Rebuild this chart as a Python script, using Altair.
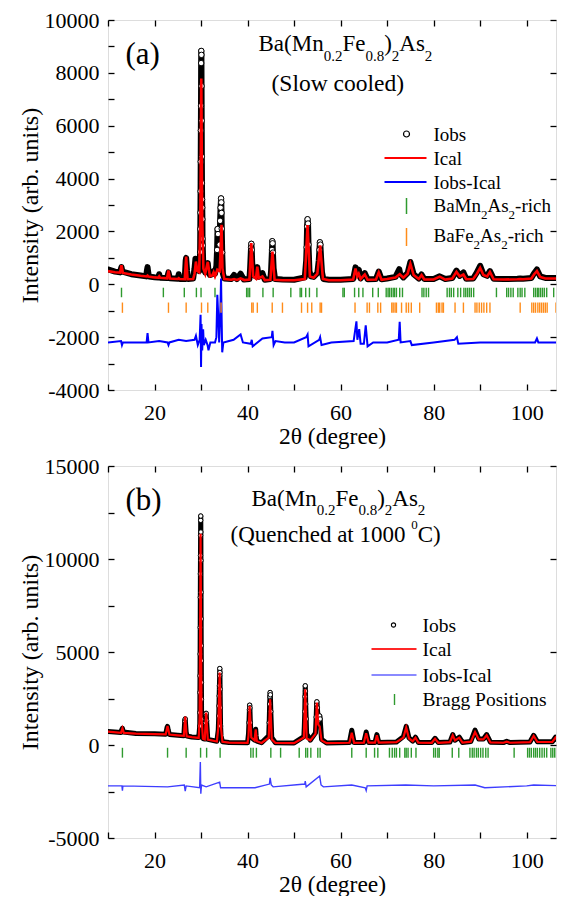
import altair as alt
import pandas as pd

FONT = "Liberation Serif"
RED = "#ff0000"
BLUE_A = "#0000ff"
BLUE_B = "#3d3dff"
GREEN = "#2f9a2f"
ORANGE = "#ff8c1a"

# ---------------- panel (a): slow cooled ----------------
obs_a_x = [10.0, 11.5, 12.6, 12.8, 12.9, 13.1, 15.0, 17.0, 18.2, 18.4, 18.5, 18.6, 18.8, 20.0, 20.8, 21.0, 21.2,
           22.7, 23.0, 23.3, 25.0, 25.2, 25.4, 26.5, 26.7, 26.8, 27.0, 27.2, 28.3, 28.6, 28.8, 29.0, 29.3, 29.6,
           29.80, 29.84, 29.87, 29.90, 29.93, 29.96, 29.99, 30.02, 30.05, 30.08, 30.11, 30.14, 30.17, 30.20,
           30.23, 30.26, 30.29, 30.32, 30.36, 30.45, 30.6, 30.9, 31.3, 31.45, 31.6, 31.9, 32.4, 32.7, 33.0,
           33.3, 33.45, 33.55, 33.65, 33.8, 34.0, 34.1, 34.2, 34.3, 34.35, 34.4, 34.45, 34.55, 34.7, 35.0,
           36.5, 37.1, 37.7, 38.5, 39.2, 40.4, 40.55, 40.65, 40.75, 40.82, 40.9, 41.0, 41.3, 41.8, 42.1, 42.4,
           43.2, 43.7, 44.9, 45.05, 45.15, 45.25, 45.32, 45.38, 45.45, 45.6, 45.9, 47.5, 50.0, 52.3, 52.6,
           52.7, 52.8, 52.9, 53.0, 53.1, 53.3, 53.6, 54.2, 55.0, 55.3, 55.45, 55.55, 55.65, 55.8, 56.0, 56.3,
           57.5, 60.0, 62.7, 63.1, 63.2, 63.4, 63.9, 64.3, 65.2, 65.8, 67.6, 68.2, 68.8, 70.0, 71.8, 72.6,
           72.8, 73.5, 74.4, 75.0, 75.7, 76.8, 77.4, 78.0, 80.0, 81.3, 82.5, 84.0, 84.9, 85.6, 86.4, 87.0,
           88.5, 89.3, 90.0, 90.7, 91.5, 92.1, 92.9, 95.0, 98.0, 98.6, 99.2, 101.0, 101.6, 102.2, 102.9,
           104.0, 106.8, 107.6, 108.2]
obs_a_y = [560, 480, 450, 600, 650, 480, 380, 330, 300, 560, 650, 500, 290, 270, 260, 380, 250,
           240, 450, 230, 210, 380, 200, 200, 900, 1000, 500, 200, 220, 600, 970, 900, 600, 500,
           1220, 2090, 2710, 3520, 4640, 5820, 6750, 8370, 8830, 8680, 7500, 6190, 4830, 3830,
           3210, 2900, 2460, 1720, 1470, 900, 600, 450, 750, 800, 500, 350, 380, 500, 400,
           700, 1300, 2090, 1900, 900, 1500, 2400, 2900, 3250, 3100, 2700, 2100, 1200, 400, 220,
           200, 350, 200, 400, 180, 200, 600, 1000, 1400, 1530, 1300, 800, 350, 300, 650, 280,
           420, 170, 200, 500, 900, 1300, 1630, 1550, 1200, 600, 200, 180, 170, 260, 900,
           1400, 2200, 2460, 2300, 1500, 500, 300, 280, 420, 900, 1300, 1590, 1500, 1000, 450, 200,
           170, 170, 200, 550, 640, 400, 550, 220, 420, 190, 200, 480, 190, 220, 280, 570,
           400, 260, 420, 845, 380, 220, 370, 200, 200, 300, 200, 240, 520, 320, 450, 210,
           220, 450, 700, 380, 320, 500, 210, 200, 210, 220, 210, 240, 420, 560, 300,
           240, 240, 320, 300]

cal_a_x = [10.0, 11.5, 12.6, 12.9, 13.2, 15.0, 17.0, 18.3, 18.5, 18.7, 20.0, 20.8, 21.0, 21.2, 22.7, 23.0,
           23.3, 25.0, 25.2, 25.4, 26.5, 26.8, 27.1, 28.3, 28.6, 28.9, 29.2, 29.6, 29.85, 30.05, 30.25,
           30.5, 30.9, 31.45, 31.9, 32.4, 32.7, 33.0, 33.5, 34.0, 34.2, 34.4, 34.6, 35.0, 36.5, 37.1,
           37.7, 38.5, 39.3, 40.4, 40.8, 41.2, 41.8, 42.1, 42.4, 43.2, 43.7, 44.9, 45.35, 45.8, 47.5,
           50.0, 52.3, 52.9, 53.4, 54.2, 55.0, 55.6, 56.2, 57.5, 60.0, 62.7, 63.2, 63.6, 63.9, 64.3,
           65.2, 65.8, 67.6, 68.2, 68.8, 70.0, 71.8, 72.7, 73.5, 74.4, 75.0, 75.7, 76.8, 77.4, 78.0,
           80.0, 81.3, 82.5, 84.0, 84.9, 85.6, 86.4, 87.0, 88.5, 89.3, 90.0, 90.7, 91.5, 92.1, 92.9,
           95.0, 98.0, 98.6, 99.2, 101.0, 101.6, 102.2, 102.9, 104.0, 106.8, 107.6, 108.2]
cal_a_y = [500, 455, 440, 720, 430, 370, 320, 295, 330, 290, 260, 250, 300, 245, 225, 520,
           220, 200, 230, 198, 190, 1050, 190, 200, 400, 860, 500, 450, 2500, 7790, 2500,
           600, 400, 850, 300, 330, 450, 300, 550, 500, 1300, 2250, 600, 200, 170, 200,
           165, 220, 160, 180, 1555, 300, 220, 670, 230, 300, 160, 170, 1240, 170, 150,
           150, 200, 2240, 300, 250, 400, 1470, 200, 155, 150, 180, 600, 300, 400, 200,
           370, 170, 180, 450, 170, 200, 260, 380, 250, 400, 780, 350, 200, 350, 180,
           180, 290, 180, 220, 470, 300, 370, 190, 200, 400, 620, 350, 300, 470, 190,
           180, 190, 200, 190, 220, 380, 500, 280, 220, 220, 300, 280]

dif_a_x = [10.0, 12.8, 13.0, 13.2, 18.3, 18.5, 18.7, 21.0, 22.8, 23.0, 23.2, 25.2, 26.8, 28.6, 28.9, 29.3,
           29.7, 29.9, 30.0, 30.1, 30.25, 30.45, 30.6, 31.0, 31.4, 31.6, 32.0, 33.0, 33.3, 33.5, 33.7,
           33.9, 34.15, 34.3, 34.45, 34.55, 34.8, 37.0, 38.5, 39.0, 40.7, 40.9, 41.1, 43.2, 45.2, 45.35,
           45.6, 46.0, 48.0, 50.0, 52.6, 52.9, 53.1, 55.4, 55.6, 55.9, 58.0, 62.8, 63.4, 63.6, 64.0,
           64.3, 65.0, 65.4, 65.8, 67.0, 70.0, 72.5, 72.7, 72.9, 75.0, 75.3, 80.0, 84.5, 85.0, 85.3,
           90.0, 95.0, 100.0, 101.8, 102.2, 102.5, 108.2]
dif_a_y = [-2200, -2150, -2300, -2200, -2200, -1850, -2200, -2150, -2200, -2300, -2200, -2100, -2150, -2100, -1950, -2300,
           -2100, -1150, -3130, -1500, -2500, -1700, -2300, -2100, -2300, -2500, -2200, -2200, -2000, -400, -1200,
           -2200, -1000, 220, -1500, -2575, -2200, -2100, -1900, -2200, -2250, -2100, -2350, -2050, -2000, -1760,
           -2300, -2150, -2200, -2200, -2000, -1900, -2350, -2100, -2000, -2300, -2200, -2150, -1400, -2100, -1700,
           -2250, -2250, -1550, -2350, -2200, -2200, -2100, -1420, -2200, -2150, -2300, -2200, -2100, -2000, -2250,
           -2200, -2200, -2200, -2200, -2050, -2200, -2200]

bragg_mn_a = [12.9, 21.9, 26.4, 29.0, 30.0, 33.0, 39.8, 40.1, 40.45, 43.3, 45.5, 49.3, 51.3, 51.6, 52.5,
              53.3, 54.9, 60.5, 60.8, 63.0, 63.9, 64.8, 66.9, 68.1, 69.8, 70.2, 70.5, 70.9, 71.3, 71.6,
              72.0, 72.7, 73.3, 77.5, 77.9, 78.4, 78.9, 82.9, 83.4, 83.8, 84.3, 85.2, 85.8, 86.5, 86.9,
              87.3, 87.7, 88.1, 88.6, 93.5, 95.7, 96.1, 96.6, 97.1, 98.1, 98.6, 99.0, 99.6, 101.5, 101.9,
              102.3, 102.6, 103.0, 103.4, 103.8, 104.3, 105.8, 107.5]
bragg_fe_a = [13.1, 23.0, 26.8, 30.1, 31.45, 34.3, 40.9, 41.2, 42.1, 45.3, 47.5, 51.6, 52.9, 53.8, 55.6,
              55.9, 63.1, 65.7, 66.2, 68.0, 68.6, 71.0, 71.3, 71.7, 72.0, 73.1, 74.1, 74.6, 75.2, 77.0,
              80.6, 81.0, 81.3, 81.8, 82.1, 84.6, 86.4, 88.9, 89.3, 89.8, 90.3, 90.8, 91.4, 92.1, 98.6,
              101.1, 101.5, 101.9, 102.4, 102.8, 103.2, 103.6, 104.0, 104.4, 106.3, 106.7, 107.1, 107.5, 107.9]

# ---------------- panel (b): quenched at 1000 C ----------------
obs_b_x = [10.0, 12.8, 13.0, 13.1, 13.3, 16.0, 20.0, 22.4, 22.7, 22.8, 22.95, 23.2, 25.0, 26.3, 26.5, 26.6,
           26.8, 27.0, 28.0, 29.5, 29.72, 29.74, 29.76, 29.78, 29.80, 29.82, 29.84, 29.86, 29.88, 29.90,
           29.92, 29.94, 29.96, 29.98, 30.00, 30.02, 30.04, 30.06, 30.08, 30.10, 30.12, 30.16, 30.4, 30.8,
           30.95, 31.05, 31.1, 31.2, 31.45, 33.4, 33.7, 33.8, 33.85, 33.9, 33.95, 34.0, 34.03, 34.06, 34.1,
           34.15, 34.2, 34.3, 34.6, 36.0, 40.0, 40.2, 40.3, 40.4, 40.45, 40.5, 40.6, 40.8, 41.5, 41.7,
           41.75, 41.85, 42.0, 43.0, 44.55, 44.65, 44.75, 44.8, 44.85, 44.9, 45.0, 45.2, 46.0, 50.0, 52.1,
           52.2, 52.3, 52.35, 52.4, 52.45, 52.5, 52.6, 52.7, 53.5, 54.6, 54.75, 54.85, 54.9, 55.0, 55.2,
           55.5, 55.6, 55.9, 57.0, 61.9, 62.4, 62.9, 65.0, 65.5, 66.0, 67.4, 67.8, 68.2, 72.0, 73.5,
           74.1, 74.7, 75.5, 76.1, 76.7, 79.6, 80.3, 81.0, 83.5, 84.1, 84.6, 85.5, 86.2, 88.0, 88.9,
           89.7, 90.7, 91.4, 92.2, 95.0, 95.7, 96.4, 100.7, 101.5, 102.3, 105.5, 106.2, 106.9, 108.2]
obs_b_y = [720, 670, 850, 900, 700, 620, 600, 580, 950, 1000, 800, 570, 530, 500, 1300, 1400,
           700, 480, 430, 400, 1020, 1740, 2820, 3720, 4890, 6320, 7940, 9200, 10190, 11270,
           12080, 12310, 11450, 9920, 8210, 6780, 5340, 4530, 3360, 2460, 1390, 800, 350, 320,
           1200, 1650, 1700, 1300, 300, 200, 800, 1560, 2100, 2640, 3180, 3720, 4110, 3900, 3000,
           2000, 1020, 485, 180, 140, 120, 600, 1200, 1900, 2140, 2000, 1200, 400, 260, 800,
           845, 500, 210, 120, 500, 1200, 2200, 2600, 2820, 2700, 1800, 400, 120, 110, 450,
           1000, 1800, 2600, 3180, 2900, 2200, 1400, 600, 260, 650, 1500, 2200, 2320, 2000, 1300,
           1560, 1400, 300, 110, 130, 790, 130, 140, 700, 140, 140, 560, 140, 160, 450,
           1000, 380, 210, 420, 140, 130, 360, 130, 160, 560, 260, 420, 140, 190, 800,
           320, 320, 560, 150, 130, 200, 130, 160, 520, 170, 170, 420, 170, 170]

cal_b_x = [10.0, 12.8, 13.1, 13.4, 16.0, 20.0, 22.4, 22.8, 23.2, 25.0, 26.3, 26.6, 26.9, 28.0, 29.5, 29.7,
           29.9, 30.1, 30.4, 30.8, 31.1, 31.45, 33.4, 33.7, 34.0, 34.3, 34.6, 36.0, 40.0, 40.2, 40.45,
           40.8, 41.5, 41.75, 42.0, 43.0, 44.55, 44.85, 45.2, 46.0, 50.0, 52.1, 52.4, 52.7, 53.5, 54.6,
           54.9, 55.2, 55.5, 55.9, 57.0, 61.9, 62.4, 62.9, 65.0, 65.5, 66.0, 67.4, 67.8, 68.2, 72.0,
           73.5, 74.1, 74.7, 75.5, 76.1, 76.7, 79.6, 80.3, 81.0, 83.5, 84.1, 84.6, 85.5, 86.2, 88.0,
           88.9, 89.7, 90.7, 91.4, 92.2, 95.0, 95.7, 96.4, 100.7, 101.5, 102.3, 105.5, 106.2, 106.9, 108.2]
cal_b_y = [720, 660, 900, 650, 610, 590, 570, 1020, 560, 520, 490, 1530, 470, 420, 380, 1500,
           11360, 1500, 340, 300, 1740, 290, 190, 900, 3900, 900, 170, 130, 110, 500, 2100,
           400, 250, 845, 200, 110, 400, 2460, 300, 110, 100, 400, 3000, 350, 250, 600,
           2280, 1100, 1000, 250, 100, 120, 665, 120, 130, 630, 130, 130, 520, 130, 150,
           400, 935, 350, 200, 395, 130, 120, 340, 120, 150, 520, 250, 395, 130, 180,
           700, 300, 300, 520, 140, 120, 180, 120, 150, 485, 160, 160, 395, 160, 160]

dif_b_x = [10.0, 13.0, 13.1, 13.2, 22.8, 26.4, 26.6, 26.8, 29.7, 29.85, 29.95, 30.1, 31.1, 34.0, 34.2,
           41.6, 44.7, 44.85, 45.1, 45.5, 52.3, 52.4, 52.6, 55.5, 55.8, 56.3, 62.4, 65.3, 65.5, 65.7,
           74.0, 80.0, 88.9, 91.0, 100.0, 101.5, 108.2]
dif_b_y = [-2200, -2200, -2450, -2200, -2250, -2150, -2480, -2200, -2300, -920, -2620, -2150, -2250, -2000, -2300,
           -2300, -2100, -1760, -2150, -2250, -2100, -1940, -2250, -1670, -2150, -2250, -2150, -2300, -2450, -2200,
           -2150, -2200, -2150, -2300, -2200, -2150, -2200]

bragg_b = [13.1, 22.8, 26.8, 29.9, 31.2, 34.1, 40.7, 41.2, 41.9, 45.0, 47.1, 51.1, 52.5, 52.9, 53.6, 55.1,
           55.6, 62.4, 65.5, 67.3, 68.0, 70.5, 71.1, 71.6, 72.0, 72.7, 73.8, 74.1, 74.5, 75.2, 76.2, 80.0,
           80.4, 80.9, 81.2, 84.0, 85.4, 87.8, 88.3, 88.7, 89.2, 89.6, 90.1, 90.6, 91.2, 91.7, 97.3, 100.2,
           100.6, 101.0, 101.5, 101.9, 102.3, 102.8, 103.3, 103.8, 104.3, 105.2, 105.6, 106.0, 106.4, 106.9,
           107.3, 107.8]

x_ticks = [10, 20, 30, 40, 50, 60, 70, 80, 90, 100]

# ---------------- helpers ----------------
TW = {' ': 250, '(': 333, ')': 333, '.': 250, '-': 333, 'A': 722, 'B': 667, 'C': 667, 'F': 556,
      'I': 333, 'M': 889, 'P': 556, 'Q': 722, 'S': 556, 'a': 444, 'b': 500, 'c': 444, 'd': 500,
      'e': 444, 'g': 500, 'h': 500, 'i': 278, 'l': 278, 'n': 500, 'o': 500, 'r': 333, 's': 389,
      't': 278, 'u': 500, 'w': 722, 'y': 500}


def tw(s, fs):
    return sum(TW.get(c, 500) for c in s) * fs / 1000.0


ONE = pd.DataFrame({"k": [0]})

W = 448
H_A = 370
H_B = 372
XDOM = [10, 106.3]


def rich(pieces, x0, y0, fs, fs_small, sub_dy, sup_dy):
    out = []
    x = x0
    for t, kind in pieces:
        f = fs if kind == "n" else fs_small
        y = y0 + (sub_dy if kind == "sub" else (sup_dy if kind == "sup" else 0))
        out.append(alt.Chart(ONE).mark_text(align="left", baseline="alphabetic", font=FONT,
                                            fontSize=f, color="black")
                   .encode(x=alt.value(x), y=alt.value(y), text=alt.value(t)))
        x += tw(t, f)
    return out


def panel(ox, oy, cx, cy, dx, dy, ydom, yminor, ymajor, thr, band_w, circ, red_w, blue, blue_w,
          bragg_rows, tpad):
    xs = alt.Scale(domain=XDOM, nice=False, zero=False)
    ys = alt.Scale(domain=ydom, nice=False, zero=False)
    ax_bottom = alt.Axis(orient="bottom", values=x_ticks, offset=-6, tickSize=6, tickWidth=1.3,
                         tickColor="black", domain=False, grid=False,
                         labelExpr="datum.value % 20 == 0 ? '' + datum.value : ''",
                         labelFont=FONT, labelFontSize=22, labelColor="black", labelPadding=12,
                         labelFlush=False, labelOverlap=False,
                         title="2θ (degree)", titleFont=FONT, titleFontSize=23.5,
                         titleFontWeight="normal", titleColor="black", titlePadding=1)
    ax_top = alt.Axis(orient="top", values=x_ticks, offset=-6, tickSize=6, tickWidth=1.3,
                      tickColor="black", domain=False, grid=False, labels=False, title=None)
    step = ymajor
    ax_left = alt.Axis(orient="left", values=yminor, offset=-6, tickSize=6, tickWidth=1.3,
                       tickColor="black", domain=False, grid=False,
                       labelExpr=f"datum.value % {step} == 0 ? '' + datum.value : ''",
                       labelFont=FONT, labelFontSize=22, labelColor="black", labelPadding=9,
                       labelFlush=False, labelOverlap=False,
                       title="Intensity (arb. units)", titleFont=FONT, titleFontSize=24,
                       titleFontWeight="normal", titleColor="black", titlePadding=tpad)
    ymaj = [v for v in yminor if v % step == 0]
    ax_right = alt.Axis(orient="right", values=ymaj, offset=-6, tickSize=6, tickWidth=1.3,
                        tickColor="black", domain=False, grid=False, labels=False, title=None)

    df_obs = pd.DataFrame({"x": ox, "I": oy})
    df_cal = pd.DataFrame({"x": cx, "I": cy})
    df_dif = pd.DataFrame({"x": dx, "I": dy})

    band = alt.Chart(df_obs).mark_line(color="black", strokeWidth=band_w, strokeJoin="round",
                                       strokeCap="round", clip=True).encode(
        x=alt.X("x:Q", scale=xs, axis=ax_bottom),
        y=alt.Y("I:Q", scale=ys, axis=ax_left))
    circles = alt.Chart(df_obs).transform_filter(f"datum.I > {thr}").mark_point(
        shape="circle", filled=True, fill="white", stroke="black", strokeWidth=1,
        size=circ, opacity=1, clip=True).encode(
        x=alt.X("x:Q", scale=xs, axis=None), y=alt.Y("I:Q", scale=ys, axis=None))
    calc = alt.Chart(df_cal).mark_line(color=RED, strokeWidth=red_w, clip=True).encode(
        x=alt.X("x:Q", scale=xs, axis=ax_top),
        y=alt.Y("I:Q", scale=ys, axis=ax_right))
    diff = alt.Chart(df_dif).mark_line(color=blue, strokeWidth=blue_w, clip=True).encode(
        x=alt.X("x:Q", scale=xs, axis=None), y=alt.Y("I:Q", scale=ys, axis=None))
    layers = [band, circles, calc, diff]
    for pos, color, y1, y2 in bragg_rows:
        layers.append(alt.Chart(pd.DataFrame({"x": pos})).mark_rule(color=color, strokeWidth=1.4,
                                                                    clip=True)
                      .encode(x=alt.X("x:Q", scale=xs, axis=None),
                              y=alt.YDatum(y1, axis=None), y2=alt.Y2Datum(y2)))
    return layers


# ---------------- panel (a) ----------------
la = panel(obs_a_x, obs_a_y, cal_a_x, cal_a_y, dif_a_x, dif_a_y, [-4000, 10000],
           list(range(-4000, 10001, 1000)), 2000, 1000, 6, 30, 2.6, BLUE_A, 2.0,
           [(bragg_mn_a, GREEN, -130, -490), (bragg_fe_a, ORANGE, -690, -1080)], 2)
la += rich([("(a)", "n")], 17.5, 43.5, 31, 31, 0, 0)
la += rich([("Ba(Mn", "n"), ("0.2", "sub"), ("Fe", "n"), ("0.8", "sub"), (")", "n"), ("2", "sub"),
            ("As", "n"), ("2", "sub")], 150.5, 31, 23, 15, 9.5, 0)
la += rich([("(Slow cooled)", "n")], 163.5, 71.3, 23.5, 23.5, 0, 0)
# legend (a)
la.append(alt.Chart(ONE).mark_point(shape="circle", filled=False, stroke="black", strokeWidth=1.2,
                                    size=36, opacity=1)
          .encode(x=alt.value(298.5), y=alt.value(114)))
la.append(alt.Chart(ONE).mark_rule(color=RED, strokeWidth=2.2)
          .encode(x=alt.value(276.5), x2=alt.value(318.5), y=alt.value(138)))
la.append(alt.Chart(ONE).mark_rule(color=BLUE_A, strokeWidth=1.8)
          .encode(x=alt.value(276.5), x2=alt.value(318.5), y=alt.value(162)))
la.append(alt.Chart(ONE).mark_rule(color=GREEN, strokeWidth=1.5)
          .encode(x=alt.value(298.5), y=alt.value(178), y2=alt.value(194)))
la.append(alt.Chart(ONE).mark_rule(color=ORANGE, strokeWidth=1.5)
          .encode(x=alt.value(298.5), y=alt.value(208), y2=alt.value(226)))
la += rich([("Iobs", "n")], 325.5, 120.5, 19, 13, 0, 0)
la += rich([("Ical", "n")], 325.5, 144.5, 19, 13, 0, 0)
la += rich([("Iobs-Ical", "n")], 325.5, 168.5, 19, 13, 0, 0)
la += rich([("BaMn", "n"), ("2", "sub"), ("As", "n"), ("2", "sub"), ("-rich", "n")],
           325.5, 191.5, 19, 13, 7, 0)
la += rich([("BaFe", "n"), ("2", "sub"), ("As", "n"), ("2", "sub"), ("-rich", "n")],
           325.5, 222, 19, 13, 7, 0)

chart_a = alt.layer(*la).resolve_axis(x="independent", y="independent").properties(width=W, height=H_A)

# ---------------- panel (b) ----------------
lb = panel(obs_b_x, obs_b_y, cal_b_x, cal_b_y, dif_b_x, dif_b_y, [-5000, 15000],
           list(range(-5000, 15001, 2500)), 5000, 1000, 5, 20, 2.2, BLUE_B, 1.4,
           [(bragg_b, GREEN, -150, -680)], 2)
lb += rich([("(b)", "n")], 17.5, 43.5, 31, 31, 0, 0)
lb += rich([("Ba(Mn", "n"), ("0.2", "sub"), ("Fe", "n"), ("0.8", "sub"), (")", "n"), ("2", "sub"),
            ("As", "n"), ("2", "sub")], 143.5, 39.5, 23, 15, 9, 0)
lb += rich([("(Quenched at 1000 ", "n"), ("0", "sup"), ("C)", "n")], 122.5, 76, 23, 13, 0, -13)
lb.append(alt.Chart(ONE).mark_point(shape="circle", filled=False, stroke="black", strokeWidth=1.1,
                                    size=18, opacity=1)
          .encode(x=alt.value(285.5), y=alt.value(159)))
lb.append(alt.Chart(ONE).mark_rule(color=RED, strokeWidth=2.2, opacity=0.85)
          .encode(x=alt.value(263.5), x2=alt.value(308.5), y=alt.value(183)))
lb.append(alt.Chart(ONE).mark_rule(color=BLUE_B, strokeWidth=1.6, opacity=0.8)
          .encode(x=alt.value(263.5), x2=alt.value(308.5), y=alt.value(209)))
lb.append(alt.Chart(ONE).mark_rule(color=GREEN, strokeWidth=1.4)
          .encode(x=alt.value(286.5), y=alt.value(228), y2=alt.value(239)))
lb += rich([("Iobs", "n")], 314.5, 166, 19.5, 13, 0, 0)
lb += rich([("Ical", "n")], 314.5, 190, 19.5, 13, 0, 0)
lb += rich([("Iobs-Ical", "n")], 314.5, 215.5, 19.5, 13, 0, 0)
lb += rich([("Bragg Positions", "n")], 314.5, 240, 19.5, 13, 0, 0)

chart_b = alt.layer(*lb).resolve_axis(x="independent", y="independent").properties(width=W, height=H_B)

chart = alt.vconcat(chart_a, chart_b, spacing=6).properties(
    padding={"left": 9, "top": 0, "right": 0, "bottom": 0}
).configure_view(stroke="black", strokeWidth=1.5).configure(background="white", font=FONT)

chart.save("out.html", embed_options={"renderer": "svg", "actions": False})
